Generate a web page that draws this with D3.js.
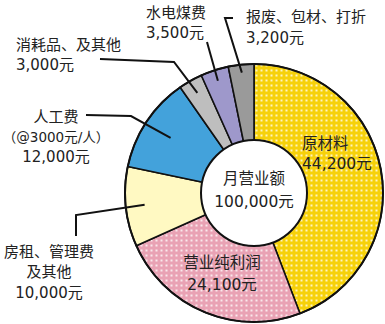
<!DOCTYPE html>
<html><head><meta charset="utf-8">
<script src="https://cdn.jsdelivr.net/npm/d3@7/dist/d3.min.js"></script>
<style>
html,body{margin:0;padding:0;background:#fff;}
svg{display:block;}
text{font-family:"DejaVu Sans","Noto Sans CJK SC",sans-serif;fill:#222;font-size:15px;}
</style></head>
<body>
<svg id="chart" width="385" height="324"></svg>
<script>
// Monthly revenue breakdown (元)
const categories = ["原材料", "营业纯利润", "房租、管理费及其他", "人工费", "消耗品、及其他", "水电煤费", "报废、包材、打折"];
const values = [44200, 24100, 10000, 12000, 3000, 3500, 3200];
const colors = ["#F6D10A", "#E9A2B4", "#FFF9C2", "#43A2DB", "#BEBEBE", "#9E98CB", "#9A9A9A"];
const dotted = [true, true, false, false, false, false, false];
const totalLabel = ["月营业额", "100,000元"];

const fmt = d3.format(",");
const svg = d3.select("#chart");
const cx = 254, cy = 193, rOuter = 129, rInner = 53;

// white dot pattern overlaid on some slices
const defs = svg.append("defs");
colors.forEach((c, i) => {
  if (!dotted[i]) return;
  const p = defs.append("pattern").attr("id", "dots" + i)
    .attr("patternUnits", "userSpaceOnUse").attr("width", 5).attr("height", 5);
  p.append("rect").attr("width", 5).attr("height", 5).attr("fill", c);
  p.append("rect").attr("x", 1.5).attr("y", 1.5).attr("width", 2).attr("height", 2)
    .attr("fill", "#fff").attr("opacity", 0.75);
});

const pie = d3.pie().sort(null).value(d => d)(values);
const arc = d3.arc().innerRadius(0).outerRadius(rOuter);
const g = svg.append("g").attr("transform", `translate(${cx},${cy})`);

g.selectAll("path.slice").data(pie).join("path")
  .attr("class", "slice")
  .attr("d", arc)
  .attr("fill", (d, i) => dotted[i] ? `url(#dots${i})` : colors[i])
  .attr("stroke", "#111").attr("stroke-width", 1.6).attr("stroke-linejoin", "round");

g.append("circle").attr("r", rOuter).attr("fill", "none").attr("stroke", "#111").attr("stroke-width", 2);
g.append("circle").attr("r", rInner).attr("fill", "#fff").attr("stroke", "#111").attr("stroke-width", 2);

// leader lines: anchor point inside slice (angle, radius) then bends toward label
function polar(a, r) { return [cx + r * Math.sin(a), cy - r * Math.cos(a)]; }
const mid = i => (pie[i].startAngle + pie[i].endAngle) / 2;
const leaders = [
  { i: 6, r: 121, pts: [[225, 18], [233, 18]] },
  { i: 5, r: 118, pts: [[207, 42]] },
  { i: 4, r: 115, pts: [[174, 62], [100, 59]] },
  { i: 3, r: 100, pts: [[131, 116], [86, 115]] },
  { i: 2, r: 110, pts: [[76, 215], [76, 236]] }
];
const line = d3.line();
leaders.forEach(l => {
  const a = polar(mid(l.i), l.r);
  svg.append("path").attr("d", line([a, ...l.pts]))
    .attr("fill", "none").attr("stroke", "#111").attr("stroke-width", 2);
});

// text blocks; y is the vertical centre of the first line
function label(lines, x, y, anchor, step, size) {
  const t = svg.append("text").attr("x", x).attr("y", y + 5.5).attr("text-anchor", anchor);
  if (size) t.style("font-size", size + "px");
  lines.forEach((s, k) => {
    const ts = t.append("tspan").attr("x", x).attr("dy", k ? step : 0);
    if (typeof s === "object") { ts.text(s.text).style("font-size", s.size + "px"); }
    else ts.text(s);
  });
}
const val = i => fmt(values[i]) + "元";
label([categories[6], val(6)], 246, 16, "start", 21);
label([categories[5], val(5)], 146, 12, "start", 20);
label([categories[4], val(4)], 16, 44, "start", 20);
label([categories[3], { text: "（@3000元/人）", size: 13.5 }, val(3)], 56, 116, "middle", 20);
label(["房租、管理费", "及其他", val(2)], 49, 251, "middle", 20.5);
label([categories[0], val(0)], 302, 143, "start", 20.5, 15.5);
label([categories[1], val(1)], 222, 262, "middle", 22, 15.5);
label(totalLabel, cx, 178, "middle", 23, 15.5);
</script>
</body></html>
